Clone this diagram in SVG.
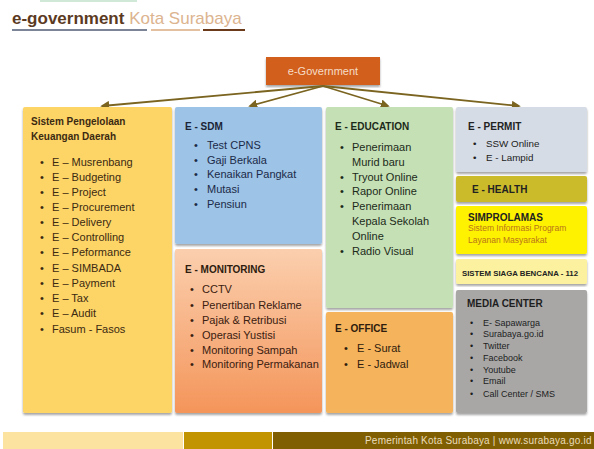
<svg xmlns="http://www.w3.org/2000/svg" width="594" height="449" viewBox="0 0 594 449">
  <defs>
    <style>
      .t { font-family: "Liberation Sans", Arial, sans-serif; }
      .h { font-family: "Liberation Sans", Arial, sans-serif; font-weight: bold; font-size: 10px; }
      .li { font-family: "Liberation Sans", Arial, sans-serif; font-size: 11px; }
      .sm { font-family: "Liberation Sans", Arial, sans-serif; font-size: 9px; }
      .conn { stroke: #7a6420; stroke-width: 1.8; fill: none; marker-end: url(#arr); }
    </style>
    <marker id="arr" viewBox="0 0 10 10" refX="8" refY="5" markerWidth="5" markerHeight="5" orient="auto">
      <path d="M0,0 L10,5 L0,10 z" fill="#7a6420"/>
    </marker>
    <filter id="sh" x="-10%" y="-10%" width="120%" height="120%">
      <feDropShadow dx="0" dy="2" stdDeviation="1.3" flood-color="#000" flood-opacity="0.35"/>
    </filter>
    <linearGradient id="monGrad" x1="0" y1="0" x2="0" y2="1">
      <stop offset="0" stop-color="#fbcfae"/>
      <stop offset="1" stop-color="#f4955a"/>
    </linearGradient>
  </defs>

  <rect width="594" height="449" fill="#ffffff"/>
  <rect x="40" y="0" width="97" height="2" fill="#cfe8d8"/>

  <!-- title -->
  <g id="title">
    <text x="12" y="24" class="t" font-size="17"><tspan font-weight="bold" fill="#5b3a1f">e-government</tspan><tspan fill="#dcb48f"> Kota Surabaya</tspan></text>
    <rect x="12" y="29" width="135" height="2" fill="#7b8597"/>
    <rect x="151" y="29" width="49" height="2" fill="#e3c0a0"/>
    <rect x="203" y="29" width="42" height="2" fill="#6b3a1a"/>
  </g>

  <!-- root -->
  <g id="egov">
    <rect x="266" y="57" width="114" height="28" fill="#d2601a" filter="url(#sh)"/>
    <text x="323" y="75" class="t" font-size="11" fill="#f6dcc8" text-anchor="middle">e-Government</text>
  </g>

  <!-- connectors -->
  <g id="connectors">
    <line class="conn" x1="323" y1="86" x2="102" y2="106"/>
    <line class="conn" x1="323" y1="86" x2="250" y2="106"/>
    <line class="conn" x1="323" y1="86" x2="388" y2="106"/>
    <line class="conn" x1="323" y1="86" x2="519" y2="106"/>
  </g>

  <!-- finance -->
  <g id="keuangan">
    <rect x="23" y="107" width="149" height="306" rx="2" fill="#fdd466" filter="url(#sh)"/>
    <text class="h" fill="#3b2a12" x="31" y="125">Sistem Pengelolaan</text>
    <text class="h" fill="#3b2a12" x="31" y="140">Keuangan Daerah</text>
    <g class="li" fill="#3b2a12">
      <text x="40" y="166">•</text><text x="52" y="166">E – Musrenbang</text>
      <text x="40" y="181">•</text><text x="52" y="181">E – Budgeting</text>
      <text x="40" y="196">•</text><text x="52" y="196">E – Project</text>
      <text x="40" y="211">•</text><text x="52" y="211">E – Procurement</text>
      <text x="40" y="226">•</text><text x="52" y="226">E – Delivery</text>
      <text x="40" y="241">•</text><text x="52" y="241">E – Controlling</text>
      <text x="40" y="256">•</text><text x="52" y="256">E – Peformance</text>
      <text x="40" y="272">•</text><text x="52" y="272">E – SIMBADA</text>
      <text x="40" y="287">•</text><text x="52" y="287">E – Payment</text>
      <text x="40" y="302">•</text><text x="52" y="302">E – Tax</text>
      <text x="40" y="317">•</text><text x="52" y="317">E – Audit</text>
      <text x="40" y="333">•</text><text x="52" y="333">Fasum - Fasos</text>
    </g>
  </g>

  <!-- human resources -->
  <g id="sdm">
    <rect x="175" y="107" width="147" height="137" rx="2" fill="#9dc3e6" filter="url(#sh)"/>
    <text class="h" fill="#1b2436" x="185" y="130">E - SDM</text>
    <g class="li" fill="#1b2a48">
      <text x="194" y="149">•</text><text x="207" y="149">Test CPNS</text>
      <text x="194" y="164">•</text><text x="207" y="164">Gaji Berkala</text>
      <text x="194" y="178">•</text><text x="207" y="178">Kenaikan Pangkat</text>
      <text x="194" y="193">•</text><text x="207" y="193">Mutasi</text>
      <text x="194" y="208">•</text><text x="207" y="208">Pensiun</text>
    </g>
  </g>

  <!-- monitoring -->
  <g id="monitoring">
    <rect x="175" y="249" width="147" height="164" rx="2" fill="url(#monGrad)" filter="url(#sh)"/>
    <text class="h" fill="#2e1c0e" x="185" y="273">E - MONITORING</text>
    <g class="li" fill="#3a2010" font-size="10.6">
      <text x="190" y="293">•</text><text x="202" y="293">CCTV</text>
      <text x="190" y="309">•</text><text x="202" y="309">Penertiban Reklame</text>
      <text x="190" y="324">•</text><text x="202" y="324">Pajak &amp; Retribusi</text>
      <text x="190" y="339">•</text><text x="202" y="339">Operasi Yustisi</text>
      <text x="190" y="354">•</text><text x="202" y="354">Monitoring Sampah</text>
      <text x="190" y="368">•</text><text x="202" y="368">Monitoring Permakanan</text>
    </g>
  </g>

  <!-- education -->
  <g id="education">
    <rect x="326" y="107" width="127" height="201" rx="2" fill="#c5e0b4" filter="url(#sh)"/>
    <text class="h" fill="#1c2a1a" x="335" y="130">E - EDUCATION</text>
    <g class="li" fill="#1c2a1a">
      <text x="340" y="151">•</text><text x="352" y="151">Penerimaan</text>
      <text x="352" y="166">Murid baru</text>
      <text x="340" y="181">•</text><text x="352" y="181">Tryout Online</text>
      <text x="340" y="195">•</text><text x="352" y="195">Rapor Online</text>
      <text x="340" y="210">•</text><text x="352" y="210">Penerimaan</text>
      <text x="352" y="225">Kepala Sekolah</text>
      <text x="352" y="240">Online</text>
      <text x="340" y="255">•</text><text x="352" y="255">Radio Visual</text>
    </g>
  </g>

  <!-- office -->
  <g id="office">
    <rect x="326" y="312" width="127" height="101" rx="2" fill="#f5b35b" filter="url(#sh)"/>
    <text class="h" fill="#2e1c0e" x="335" y="332">E - OFFICE</text>
    <g class="li" fill="#2e1c0e">
      <text x="344" y="352">•</text><text x="357" y="352">E - Surat</text>
      <text x="344" y="368">•</text><text x="357" y="368">E - Jadwal</text>
    </g>
  </g>

  <!-- permit -->
  <g id="permit">
    <rect x="456" y="107" width="131" height="65" rx="2" fill="#d6dce5" filter="url(#sh)"/>
    <text class="h" fill="#222" x="468" y="130">E - PERMIT</text>
    <g class="t" font-size="9.8" fill="#222">
      <text x="473" y="147">•</text><text x="486" y="147">SSW Online</text>
      <text x="473" y="161">•</text><text x="486" y="161">E - Lampid</text>
    </g>
  </g>

  <!-- health -->
  <g id="health">
    <rect x="456" y="176" width="131" height="26" rx="2" fill="#cbbb2a" filter="url(#sh)"/>
    <text class="h" fill="#222" x="472" y="193">E - HEALTH</text>
  </g>

  <!-- simprolamas -->
  <g id="simprolamas">
    <rect x="456" y="206" width="131" height="48" rx="2" fill="#fff200" filter="url(#sh)"/>
    <text class="h" fill="#222" x="468" y="221">SIMPROLAMAS</text>
    <text class="t" font-size="8.5" fill="#b8741a" x="468" y="231">Sistem Informasi Program</text>
    <text class="t" font-size="8.5" fill="#b8741a" x="468" y="243">Layanan Masyarakat</text>
  </g>

  <!-- disaster alert -->
  <g id="siaga">
    <rect x="456" y="259" width="131" height="25" rx="2" fill="#fbf19e" filter="url(#sh)"/>
    <text class="t" font-weight="bold" font-size="8" fill="#222" x="462" y="276" textLength="116" lengthAdjust="spacingAndGlyphs">SISTEM SIAGA BENCANA - 112</text>
  </g>

  <!-- media center -->
  <g id="media">
    <rect x="456" y="290" width="131" height="123" rx="2" fill="#a8a7a6" filter="url(#sh)"/>
    <text class="h" fill="#1e1e1e" x="467" y="307">MEDIA CENTER</text>
    <g class="sm" fill="#1e1e1e">
      <text x="470" y="326">•</text><text x="483" y="326">E- Sapawarga</text>
      <text x="470" y="337">•</text><text x="483" y="337">Surabaya.go.id</text>
      <text x="470" y="349">•</text><text x="483" y="349">Twitter</text>
      <text x="470" y="361">•</text><text x="483" y="361">Facebook</text>
      <text x="470" y="373">•</text><text x="483" y="373">Youtube</text>
      <text x="470" y="384">•</text><text x="483" y="384">Email</text>
      <text x="470" y="397">•</text><text x="483" y="397">Call Center / SMS</text>
    </g>
  </g>

  <!-- footer band -->
  <g id="footer">
    <rect x="3" y="432" width="180" height="17" fill="#fde3a0"/>
    <rect x="184" y="432" width="88" height="17" fill="#c29402"/>
    <rect x="273" y="432" width="321" height="17" fill="#7f5f02"/>
    <text class="t" font-size="10" fill="#eadcbc" x="365" y="444" letter-spacing="0.2">Pemerintah Kota Surabaya  |  www.surabaya.go.id</text>
  </g>
</svg>
